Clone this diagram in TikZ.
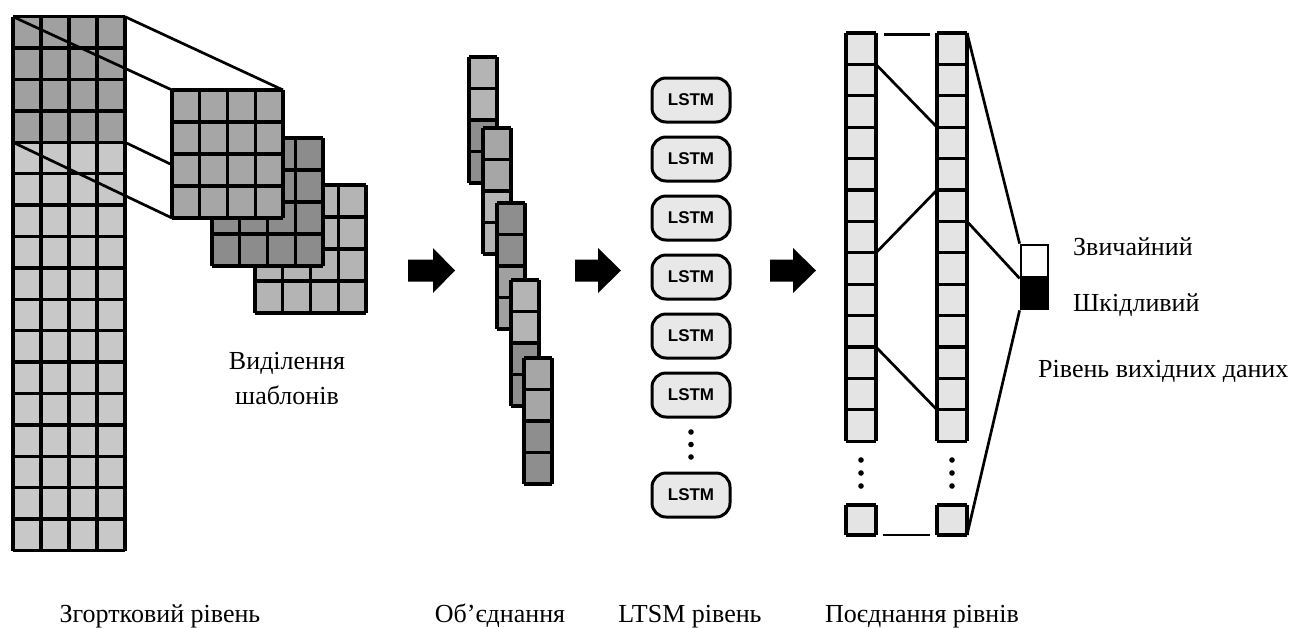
\documentclass[tikz,border=0pt]{standalone}
\usepackage{fontspec}
\setmainfont{Liberation Serif}
\newfontfamily\lsfont{Liberation Sans}
\definecolor{convdark}{HTML}{A0A0A0}
\definecolor{convlight}{HTML}{C8C8C8}
\definecolor{mapA}{HTML}{A6A6A6}
\definecolor{mapB}{HTML}{8C8C8C}
\definecolor{mapC}{HTML}{B4B4B4}
\definecolor{poolL}{HTML}{B4B4B4}
\definecolor{poolM}{HTML}{A6A6A6}
\definecolor{poolD}{HTML}{8E8E8E}
\definecolor{cellfill}{HTML}{E4E4E4}
\definecolor{lstmfill}{HTML}{E8E8E8}

% grid of cells: #1,#2 top-left corner; #3 columns; #4 rows; #5 cell width; #6 cell height
\newcommand\cellgrid[6]{%
  \foreach \gi in {0,...,#3}
    \draw[cell] ({#1+\gi*#5},{#2}) -- ({#1+\gi*#5},{#2+#4*#6});
  \foreach \gj in {0,...,#4}
    \draw[cell] ({#1},{#2+\gj*#6}) -- ({#1+#3*#5},{#2+\gj*#6});
}
% 4x4 feature map: #1,#2 top-left corner; #3 fill colour
\newcommand\featmap[3]{%
  \fill[#3] (#1,#2) rectangle ({#1+111},{#2+128});
  \cellgrid{#1}{#2}{4}{4}{27.75}{32}
}
% pooled strip of four cells: #1,#2 top-left; #3 upper colour; #4 lower colour
\newcommand\poolstrip[4]{%
  \fill[#3] (#1,#2) rectangle ({#1+28},{#2+63});
  \fill[#4] (#1,{#2+63}) rectangle ({#1+28},{#2+126});
  \cellgrid{#1}{#2}{1}{4}{28}{31.5}
}
% block arrow: #1 left end, #2 start of head, #3 tip
\newcommand\blockarrow[3]{%
  \fill[black] (#1,259.5) -- (#2,259.5) -- (#2,248) -- (#3,270.5) -- (#2,293)
    -- (#2,281.5) -- (#1,281.5) -- cycle;
}

\begin{document}
\begin{tikzpicture}[x=1pt,y=-1pt,
  cell/.style={draw=black,line width=3.3pt,line cap=square},
  link/.style={draw=black,line width=2.7pt},
  lstm/.style={draw=black,line width=3pt,fill=lstmfill,rounded corners=14pt,
    minimum width=78pt,minimum height=44pt,inner sep=0pt,
    font=\lsfont\bfseries\fontsize{17}{17}\selectfont},
  lbl/.style={font=\fontsize{26}{30}\selectfont,inner sep=0pt,anchor=base},
  outbox/.style={draw=black,line width=2.8pt,minimum width=27pt,minimum height=32pt,inner sep=0pt}
]
\fill[white] (0,0) rectangle (1295,627);
\useasboundingbox (0,0) rectangle (1295,627);

% ---- convolutional layer ----
\fill[convdark] (13,16.7) rectangle (125,142.3);
\fill[convlight] (13,142.3) rectangle (125,550.5);
\cellgrid{13}{16.7}{4}{17}{28}{31.4}

% receptive field projection
\coordinate (rfa) at (13,16.7);
\coordinate (rfb) at (125,16.7);
\coordinate (rfc) at (13,142.3);
\coordinate (rfd) at (125,142.3);
\coordinate (fma) at (172,90);
\coordinate (fmb) at (283,90);
\coordinate (fmc) at (172,218);
\coordinate (fmd) at (283,218);
\draw[link] (rfa) -- (fma);
\draw[link] (rfb) -- (fmb);
\draw[link] (rfc) -- (fmc);
\draw[link] (rfd) -- (fmd);

% feature maps
\featmap{255}{185}{mapC}
\featmap{212}{138}{mapB}
\featmap{172}{90}{mapA}

\node[lbl] (sel1) at (287,369) {Виділення};
\node[lbl] (sel2) at (287,404) {шаблонів};

% ---- arrows ----
\blockarrow{408}{433}{455}
\blockarrow{575}{598}{621}
\blockarrow{770}{793}{816}

% ---- pooling ----
\poolstrip{469}{57}{poolL}{poolD}
\poolstrip{483}{128}{poolM}{poolL}
\poolstrip{497}{203}{poolD}{convdark}
\poolstrip{511}{280}{poolL}{poolD}
\poolstrip{524}{358}{poolM}{poolD}

% ---- LSTM layer ----
\node[lstm] (m1) at (691,100) {LSTM};
\node[lstm] (m2) at (691,159) {LSTM};
\node[lstm] (m3) at (691,218) {LSTM};
\node[lstm] (m4) at (691,277) {LSTM};
\node[lstm] (m5) at (691,336) {LSTM};
\node[lstm] (m6) at (691,395) {LSTM};
\node[lstm] (m7) at (691,495) {LSTM};
\foreach \yy in {432,444.5,457} \fill (691,\yy) circle (2.8);

% ---- merged layers ----
\fill[cellfill] (846,33) rectangle (876,441.2);
\fill[cellfill] (937,33) rectangle (967,441.2);
\fill[cellfill] (846,505) rectangle (876,535);
\fill[cellfill] (937,505) rectangle (967,535);
\cellgrid{846}{33}{1}{13}{30}{31.4}
\cellgrid{937}{33}{1}{13}{30}{31.4}
\cellgrid{846}{505}{1}{1}{30}{30}
\cellgrid{937}{505}{1}{1}{30}{30}
\foreach \yy in {460,473,486} {
  \fill (861,\yy) circle (2.8);
  \fill (952,\yy) circle (2.8);
}
\foreach \k in {0,...,13} {
  \coordinate (L\k) at (876,{33+31.4*\k});
  \coordinate (R\k) at (937,{33+31.4*\k});
  \coordinate (Q\k) at (967,{33+31.4*\k});
}
\coordinate (Qb) at (967,535);
\coordinate (topa) at (884,34.5);
\coordinate (topb) at (930,34.5);
\coordinate (bota) at (883,535);
\coordinate (botb) at (930,535);
\draw[link] (topa) -- (topb);
\draw[link] (bota) -- (botb);
\draw[link] (L1) -- (R3);
\draw[link] (L7) -- (R5);
\draw[link] (L10) -- (R12);

% ---- output layer ----
\node[outbox,fill=white] (outa) at (1034.5,261) {};
\node[outbox,fill=black] (outb) at (1034.5,293) {};
\draw[link] (Q0) -- (outa.north west);
\draw[link] (Q6) -- (outa.south west);
\draw[link] (Qb) -- (outb.south west);

\node[lbl,anchor=base west] (cls1) at (1073,255) {Звичайний};
\node[lbl,anchor=base west] (cls2) at (1073,311) {Шкідливий};
\node[lbl,anchor=base west] (outlbl) at (1038,377) {Рівень вихідних даних};

% ---- captions ----
\node[lbl] (convlbl) at (160,622) {Згортковий рівень};
\node[lbl] (poollbl) at (500,622) {Об’єднання};
\node[lbl] (lstmlbl) at (690,622) {LTSM рівень};
\node[lbl] (mergelbl) at (922,622) {Поєднання рівнів};
\end{tikzpicture}
\end{document}
